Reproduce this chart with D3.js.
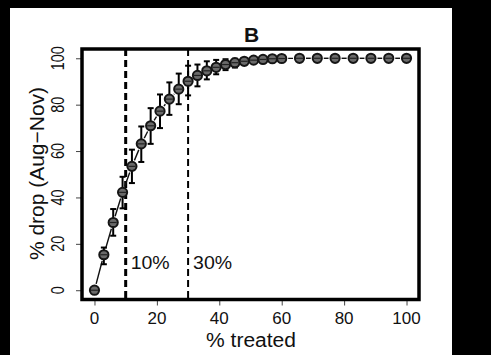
<!DOCTYPE html>
<html>
<head>
<meta charset="utf-8">
<script src="https://cdn.jsdelivr.net/npm/d3@7"></script>
<style>
  html, body { margin: 0; padding: 0; background: #000; }
  svg { display: block; }
  text { font-family: "Liberation Sans", Arial, sans-serif; fill: #111; }
</style>
</head>
<body>
<svg id="chart" width="491" height="355"></svg>
<script>
// percentage of population treated
const treated = [0, 3, 6, 9, 12, 15, 18, 21, 24, 27, 30, 33, 36, 39, 42, 45, 48, 51, 54, 57, 60,
                 65.7, 71.4, 77.1, 82.9, 88.6, 94.3, 100];
// mean % drop in prevalence (Aug–Nov)
const drop = [0, 15.3, 29.2, 42.2, 53.4, 63.1, 70.9, 77.2, 82.4, 86.7, 90.1, 92.6, 94.6, 96.1, 97.3,
              98.1, 98.7, 99.2, 99.5, 99.8, 99.9, 100, 100, 100, 100, 100, 100, 100];
// error bar limits
const dropLow = [0, 11.2, 23.5, 35.3, 46.2, 55.3, 63.1, 69.9, 75.6, 80.2, 84.0, 87.9, 90.9, 93.1, 94.9,
                 96.0, 97.2, 98.2, 98.9, 99.4, 99.8, 100, 100, 100, 100, 100, 100, 100];
const dropHigh = [0, 18.4, 35.0, 48.9, 60.6, 70.6, 78.5, 84.4, 89.6, 93.4, 96.8, 97.3, 98.7, 99.3, 99.6,
                  99.8, 100, 100, 100, 100, 100, 100, 100, 100, 100, 100, 100, 100];
const xTicks = [0, 20, 40, 60, 80, 100];
const yTicks = [0, 20, 40, 60, 80, 100];
const thresholds = [10, 30];
const thresholdLabels = ["10%", "30%"];

const svg = d3.select("#chart");

// white canvas
svg.append("rect").attr("x", 10).attr("y", 8).attr("width", 442).attr("height", 347).attr("fill", "#fff");

const plotL = 82, plotR = 419, plotT = 49, plotB = 299.5;
const x = d3.scaleLinear().domain([-4, 104]).range([plotL, plotR]);
const y = d3.scaleLinear().domain([-4, 104]).range([plotB, plotT]);

// axes (ticks only, labels drawn separately)
const xAxis = svg.append("g").attr("transform", `translate(0,${plotB})`)
  .call(d3.axisBottom(x).tickValues(xTicks).tickSize(6).tickFormat(""));
const yAxis = svg.append("g").attr("transform", `translate(${plotL},0)`)
  .call(d3.axisLeft(y).tickValues(yTicks).tickSize(6).tickFormat(""));
[xAxis, yAxis].forEach(g => {
  g.select(".domain").remove();
  g.selectAll(".tick line").attr("stroke", "#444").attr("stroke-width", 1);
});

svg.append("g").selectAll("text").data(xTicks).join("text")
  .attr("x", d => x(d)).attr("y", 324)
  .attr("text-anchor", "middle").attr("font-size", 17)
  .text(d => d);

svg.append("g").selectAll("text").data(yTicks).join("text")
  .attr("transform", d => `translate(64,${y(d)}) rotate(-90) scale(0.8,1)`)
  .attr("text-anchor", "middle").attr("font-size", 18)
  .text(d => d);

// vertical threshold lines
svg.append("g").selectAll("line").data(thresholds).join("line")
  .attr("x1", d => x(d)).attr("x2", d => x(d))
  .attr("y1", plotT).attr("y2", plotB)
  .attr("stroke", "#000")
  .attr("stroke-width", (d, i) => i === 0 ? 3 : 2)
  .attr("stroke-dasharray", "7,4");

svg.append("g").selectAll("text").data(thresholds).join("text")
  .attr("x", d => x(d) + 5).attr("y", 269)
  .attr("font-size", 19)
  .attr("textLength", 39).attr("lengthAdjust", "spacingAndGlyphs")
  .text((d, i) => thresholdLabels[i]);

const pts = treated.map((t, i) => ({ t, v: drop[i], lo: dropLow[i], hi: dropHigh[i] }));

// connecting segments, leaving a small gap around each point
const gap = 6.5;
const seg = svg.append("g").attr("stroke", "#111").attr("stroke-width", 1.4);
for (let i = 1; i < pts.length; i++) {
  const x0 = x(pts[i - 1].t), y0 = y(pts[i - 1].v), x1 = x(pts[i].t), y1 = y(pts[i].v);
  const len = Math.hypot(x1 - x0, y1 - y0);
  if (len <= 2 * gap) continue;
  const ux = (x1 - x0) / len, uy = (y1 - y0) / len;
  seg.append("line")
    .attr("x1", x0 + ux * gap).attr("y1", y0 + uy * gap)
    .attr("x2", x1 - ux * gap).attr("y2", y1 - uy * gap);
}

// error bars
const eb = svg.append("g").attr("stroke", "#000").attr("stroke-width", 2);
pts.filter(d => d.hi - d.lo > 0.3).forEach(d => {
  eb.append("line").attr("x1", x(d.t)).attr("x2", x(d.t)).attr("y1", y(d.lo)).attr("y2", y(d.hi));
  eb.append("line").attr("x1", x(d.t) - 3).attr("x2", x(d.t) + 3).attr("y1", y(d.lo)).attr("y2", y(d.lo));
  eb.append("line").attr("x1", x(d.t) - 3).attr("x2", x(d.t) + 3).attr("y1", y(d.hi)).attr("y2", y(d.hi));
});

// points
svg.append("g").selectAll("circle").data(pts).join("circle")
  .attr("cx", d => x(d.t)).attr("cy", d => y(d.v)).attr("r", 4.6)
  .attr("fill", "#6a6a6a").attr("stroke", "#151515").attr("stroke-width", 2);

// short bar across each point
svg.append("g").selectAll("line").data(pts).join("line")
  .attr("x1", d => x(d.t) - 3.5).attr("x2", d => x(d.t) + 3.5)
  .attr("y1", d => y(d.v)).attr("y2", d => y(d.v))
  .attr("stroke", "#222").attr("stroke-width", 1.2);

// frame
svg.append("rect")
  .attr("x", plotL).attr("y", plotT).attr("width", plotR - plotL).attr("height", plotB - plotT)
  .attr("fill", "none").attr("stroke", "#000").attr("stroke-width", 3.5);

// titles
svg.append("text").attr("x", 251.5).attr("y", 42).attr("text-anchor", "middle")
  .attr("font-size", 21).attr("font-weight", "bold").text("B");
svg.append("text").attr("x", 251).attr("y", 346.5).attr("text-anchor", "middle")
  .attr("font-size", 19.5).attr("textLength", 90).attr("lengthAdjust", "spacingAndGlyphs")
  .text("% treated");
svg.append("text").attr("transform", "translate(44,173.5) rotate(-90)")
  .attr("text-anchor", "middle").attr("font-size", 20)
  .attr("textLength", 173).attr("lengthAdjust", "spacingAndGlyphs")
  .text("% drop (Aug\u2212Nov)");
</script>
</body>
</html>
